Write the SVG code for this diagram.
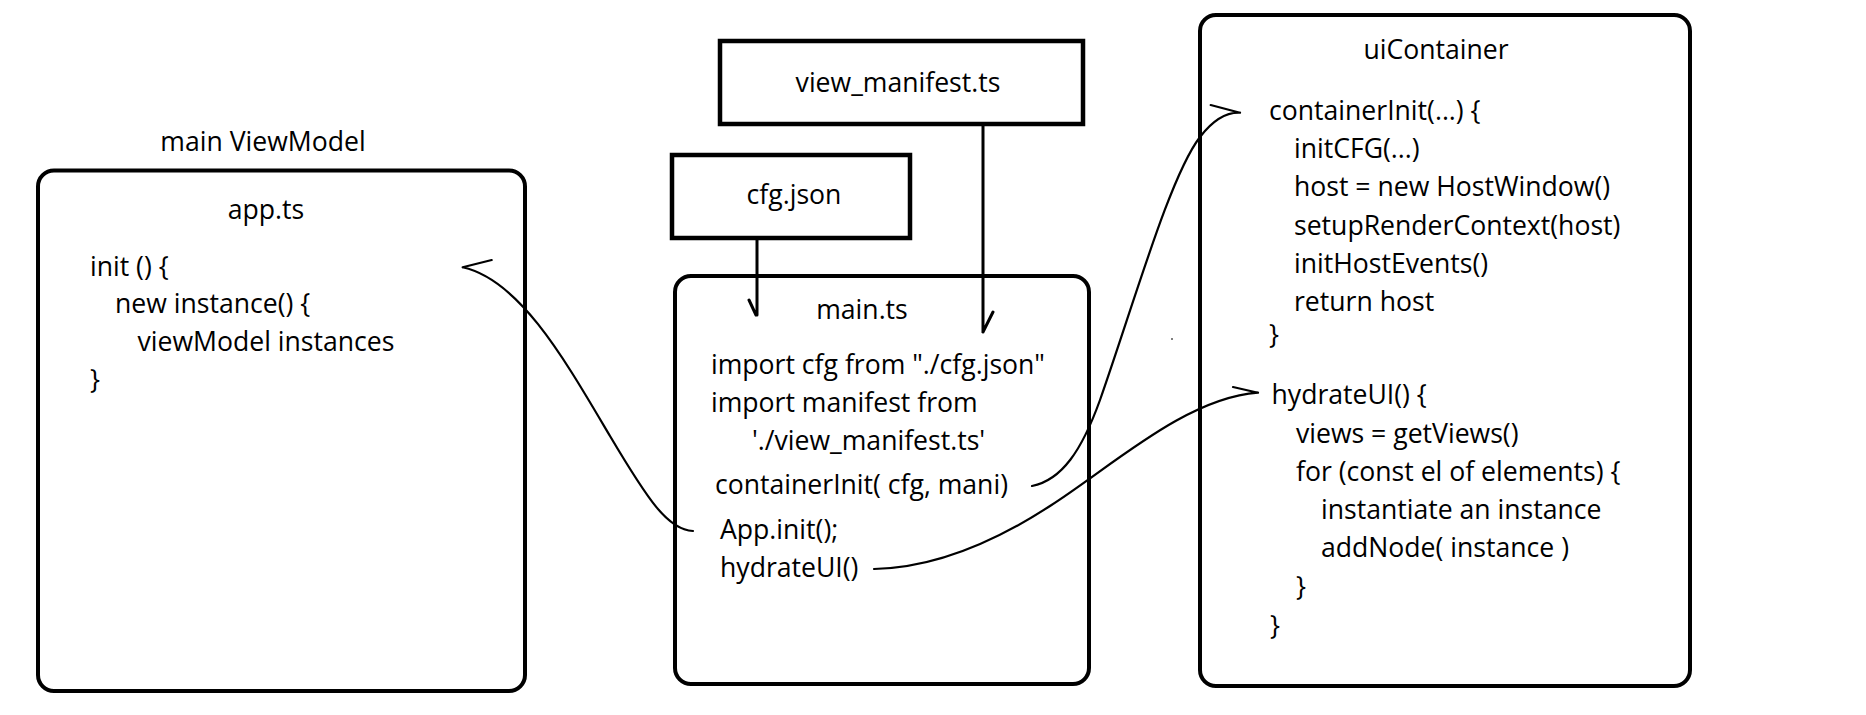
<svg xmlns="http://www.w3.org/2000/svg" width="1866" height="715" viewBox="0 0 1866 715">
<style>
text{font-family:"Open Sans","Noto Sans","Liberation Sans",sans-serif;font-size:26.6px;fill:#000}
.c{text-anchor:middle}
.box{fill:none;stroke:#000;stroke-width:4.5}
.rbox{fill:none;stroke:#000;stroke-width:4}
.ln{fill:none;stroke:#000;stroke-width:2.2;stroke-linecap:round}
.vl{fill:none;stroke:#000;stroke-width:3;stroke-linecap:round}
</style>
<rect width="1866" height="715" fill="#fff"/>
<g id="main-viewmodel">
<text x="263" y="151" class="c">main ViewModel</text>
<rect class="rbox" x="38" y="170.5" width="487" height="520.5" rx="16"/>
<text x="266" y="219" class="c">app.ts</text>
<text x="90" y="276">init () {</text>
<text x="115" y="313">new instance() {</text>
<text x="137.5" y="351">viewModel instances</text>
<text x="90" y="388.5">}</text>
</g>
<g id="view-manifest">
<rect class="box" x="720" y="41" width="363" height="83"/>
<text x="898" y="92" class="c">view_manifest.ts</text>
</g>
<g id="cfg-json">
<rect class="box" x="672" y="155" width="238" height="83"/>
<text x="794" y="204" class="c">cfg.json</text>
</g>
<g id="main-ts">
<rect class="rbox" x="675" y="276" width="414" height="408" rx="16"/>
<text x="862" y="319" class="c">main.ts</text>
<text x="711" y="374">import cfg from "./cfg.json"</text>
<text x="711" y="412">import manifest from</text>
<text x="752" y="450">'./view_manifest.ts'</text>
<text x="715" y="494">containerInit( cfg, mani)</text>
<text x="720" y="539">App.init();</text>
<text x="720" y="577">hydrateUI()</text>
</g>
<g id="ui-container">
<rect class="rbox" x="1200" y="15" width="490" height="671" rx="16"/>
<text x="1436" y="59" class="c">uiContainer</text>
<text x="1269" y="120">containerInit(...) {</text>
<text x="1294" y="158">initCFG(...)</text>
<text x="1294" y="196">host = new HostWindow()</text>
<text x="1294" y="235">setupRenderContext(host)</text>
<text x="1294" y="273">initHostEvents()</text>
<text x="1294" y="311">return host</text>
<text x="1269" y="344">}</text>
<text x="1271.5" y="404">hydrateUI() {</text>
<text x="1296" y="443">views = getViews()</text>
<text x="1296" y="481">for (const el of elements) {</text>
<text x="1321" y="519">instantiate an instance</text>
<text x="1321" y="557">addNode( instance )</text>
<text x="1296" y="596">}</text>
<text x="1270" y="635">}</text>
</g>
<g id="connectors">
<path class="vl" d="M757 238 L757 315 M749 300 L756 315"/>
<path class="vl" d="M983 124 L983 332 M993 312 L983 332"/>
<path class="ln" d="M693 531 C668 530 648 500 610 436 C565 360 520 280 462.7 267.3 M462.7 267.3 L491.7 260"/>
<path class="ln" d="M1032 486 C1062 480 1082 450 1100 400 C1135 300 1170 176 1200 137 C1210 124 1224 112 1240 112.7 M1210.7 105 L1240 112.7"/>
<path class="ln" d="M874 569 C930 568 990 545 1050 506 C1110 468 1185 398 1258 392.7 M1233 387 L1258 392.7"/>
</g>
<circle cx="1172" cy="339" r="1" fill="#555"/>
</svg>
